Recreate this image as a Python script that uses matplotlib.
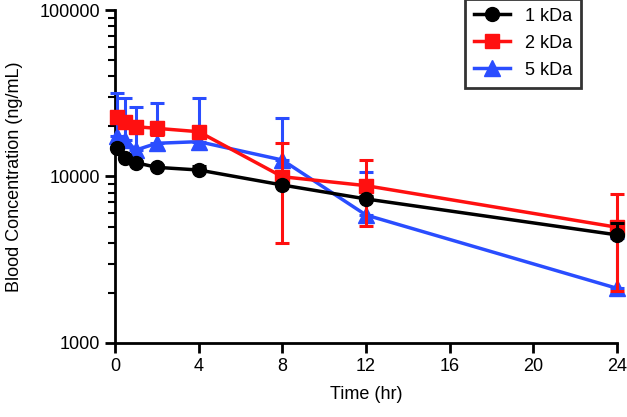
# Blood concentration vs time, three PEG sizes
import numpy as np
import matplotlib
matplotlib.use("Agg")
import matplotlib.pyplot as plt
from matplotlib.lines import Line2D
from matplotlib.ticker import LogLocator, NullFormatter, FixedLocator

plt.rcParams['font.family'] = ['Liberation Sans', 'DejaVu Sans']

# time points (hr)
time = [0.083, 0.5, 1, 2, 4, 8, 12, 24]

# mean concentrations (ng/mL)
kda1 = [14760, 12860, 12100, 11350, 10940, 8890, 7330, 4460]
kda2 = [22860, 21340, 19910, 19460, 18580, 9970, 8810, 4955]
kda5 = [17500, 16560, 14420, 15830, 16190, 12560, 5870, 2130]

# standard deviations
sd1 = [300, 300, 300, 300, 600, 300, 300, 770]
sd2 = [1500, 1800, 1500, 1800, 1200, 6000, 3750, 2900]
sd5 = [14100, 12900, 11800, 11900, 13300, 9800, 4800, 2150]

labels = ['1 kDa', '2 kDa', '5 kDa']
colors = ['black', '#ff1010', '#2a4dff']
markers = ['o', 's', '^']

fig = plt.figure(figsize=(6.27, 4.17), dpi=100)
ax = fig.add_axes([0.1834, 0.1775, 0.8006, 0.7985])

series = [(kda1, sd1, 'upper'), (kda2, sd2, 'both'), (kda5, sd5, 'upper')]
zorders = [5, 4, 3]
handles = []
for (vals, sd, side), lab, col, mk, z in zip(series, labels, colors, markers, zorders):
    vals = np.array(vals, dtype=float)
    sd = np.array(sd, dtype=float)
    lower = sd if side == 'both' else np.zeros_like(sd)
    ms = 10 if mk != '^' else 11
    eb = ax.errorbar(time, vals, yerr=[lower, sd], color=col, marker=mk,
                     markersize=ms, linewidth=2.5, elinewidth=2.2,
                     capsize=5, capthick=2.2, zorder=z, clip_on=False)
    for part in eb.lines[1] + eb.lines[2]:
        part.set_clip_on(False)
        part.set_zorder(z)
    for c in eb[2]:
        c.set_clip_on(False)
    handles.append(Line2D([], [], color=col, marker=mk, markersize=ms,
                          linewidth=2.5, label=lab))

ax.set_yscale('log')
ax.set_ylim(1000, 100000)
ax.set_xlim(0, 24)
ax.xaxis.set_major_locator(FixedLocator([0, 4, 8, 12, 16, 20, 24]))
ax.yaxis.set_major_locator(FixedLocator([1000, 10000, 100000]))
ax.set_yticklabels(['1000', '10000', '100000'])
ax.yaxis.set_minor_locator(LogLocator(base=10, subs=np.arange(2, 10)))
ax.yaxis.set_minor_formatter(NullFormatter())

for s in ['top', 'right']:
    ax.spines[s].set_visible(False)
for s in ['left', 'bottom']:
    ax.spines[s].set_linewidth(2)

ax.tick_params(axis='both', which='major', length=7, width=2, labelsize=13, direction='out')
ax.tick_params(axis='y', which='minor', length=5, width=1.5, direction='out')

ax.set_xlabel('Time (hr)', fontsize=13, labelpad=8)
ax.set_ylabel('Blood Concentration (ng/mL)', fontsize=13, labelpad=12)

leg = ax.legend(handles=handles, loc='upper right', bbox_to_anchor=(0.935, 1.045),
                fontsize=13, frameon=True, fancybox=False, edgecolor='black',
                handlelength=2.0, borderpad=0.5, labelspacing=0.55,
                borderaxespad=0.2)
leg.get_frame().set_linewidth(2)

fig.savefig('out.png', dpi=100)
